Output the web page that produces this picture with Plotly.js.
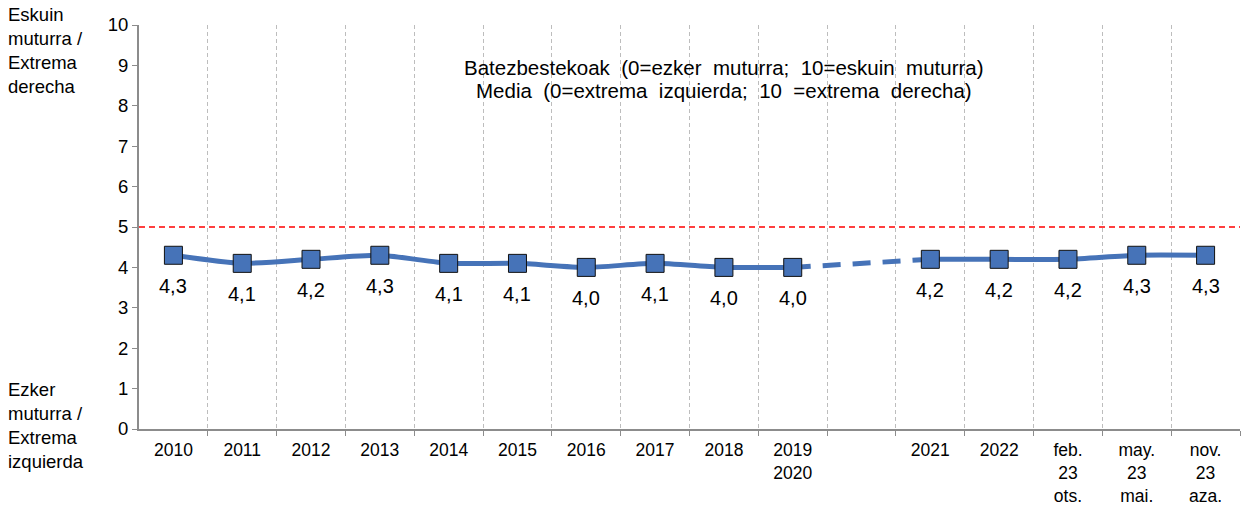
<!DOCTYPE html>
<html><head><meta charset="utf-8">
<script src="https://cdn.plot.ly/plotly-3.0.1.min.js"></script>
<style>body{margin:0;background:#fff}#chart{width:1241px;height:506px}</style>
</head><body><div id="chart"></div>
<script>
const categories = ["2010","2011","2012","2013","2014","2015","2016","2017","2018","2019<br>2020","","2021","2022","feb.<br>23<br>ots.","may.<br>23<br>mai.","nov.<br>23<br>aza."];
const values = [4.3,4.1,4.2,4.3,4.1,4.1,4.0,4.1,4.0,4.0,null,4.2,4.2,4.2,4.3,4.3];
const gapFrom = 9, gapTo = 11;
const refLine = 5;
const yTicks = [0,1,2,3,4,5,6,7,8,9,10];
const titleLines = ["Batezbestekoak&nbsp; (0=ezker&nbsp; muturra;&nbsp; 10=eskuin&nbsp; muturra)",
                    "Media&nbsp; (0=extrema&nbsp; izquierda;&nbsp; 10&nbsp; =extrema&nbsp; derecha)"];

const idx = categories.map((c,i)=>i);
const fam = "Liberation Sans, Arial, sans-serif";
const font = {family:fam, size:18.5, color:"#000"};
const tickFont = {family:fam, size:17.5, color:"#000"};
const blue = "#4673B8";

const seg1x = idx.slice(0,gapFrom+1), seg1y = values.slice(0,gapFrom+1);
const seg2x = idx.slice(gapTo), seg2y = values.slice(gapTo);

const mk = {symbol:"square",size:18,color:blue,line:{color:"#111",width:1}};
const traces = [
  {x:[gapFrom,gapTo], y:[values[gapFrom],values[gapTo]], mode:"lines",
   line:{color:blue,width:5,dash:"18px,12px"}, hoverinfo:"skip"},
  {x:seg1x, y:seg1y, mode:"lines+markers", line:{color:blue,width:5,shape:"spline",smoothing:0.6}, marker:mk},
  {x:seg2x, y:seg2y, mode:"lines+markers", line:{color:blue,width:5,shape:"spline",smoothing:0.6}, marker:mk}
];

const labelAnn = [];
values.forEach((v,i)=>{
  if (v===null) return;
  labelAnn.push({x:i, y:v, xref:"x", yref:"y", showarrow:false, yshift:-31,
    text:v.toFixed(1).replace(".",","), font:{family:fam,size:20,color:"#000"}});
});

const layout = {
  width:1241, height:506, margin:{l:139,r:1,t:25,b:77},
  paper_bgcolor:"#fff", plot_bgcolor:"#fff", showlegend:false, font:font,
  xaxis:{range:[-0.5,categories.length-0.5], tickvals:idx, ticktext:categories, ticks:"",
    ticklabelstandoff:4,
    showgrid:false, zeroline:false, showline:true, linecolor:"#8c8c8c", linewidth:2,
    tickfont:tickFont,
    minor:{tickvals:idx.slice(0,-1).map(i=>i+0.5).concat([categories.length-0.5]), ticks:"outside", ticklen:5, tickcolor:"#8c8c8c",
      showgrid:true, gridcolor:"#bdbdbd", griddash:"4px,3px", gridwidth:1}},
  yaxis:{range:[0,10], tickvals:yTicks, ticks:"outside", ticklen:5, tickcolor:"#8c8c8c",
    showgrid:false, zeroline:false, showline:true, linecolor:"#8c8c8c", linewidth:2, tickfont:font},
  shapes:[{type:"line", xref:"paper", x0:0, x1:1, yref:"y", y0:refLine, y1:refLine,
    line:{color:"#FF0000", width:1.5, dash:"6px,4px"}}],
  annotations:[
    {xref:"paper", yref:"paper", x:0.531, y:(429-67)/404, xanchor:"center", yanchor:"middle", showarrow:false,
     text:titleLines[0], font:{family:fam,size:20.5,color:"#000"}},
    {xref:"paper", yref:"paper", x:0.531, y:(429-90)/404, xanchor:"center", yanchor:"middle", showarrow:false,
     text:titleLines[1], font:{family:fam,size:20.5,color:"#000"}},
    {xref:"paper", yref:"paper", x:-0.121, y:1.056, xanchor:"left", yanchor:"top", align:"left", showarrow:false,
     text:"Eskuin<br>muturra /<br>Extrema<br>derecha", font:font},
    {xref:"paper", yref:"paper", x:-0.121, y:0.128, xanchor:"left", yanchor:"top", align:"left", showarrow:false,
     text:"Ezker<br>muturra /<br>Extrema<br>izquierda", font:font}
  ].concat(labelAnn)
};
Plotly.newPlot("chart", traces, layout, {displayModeBar:false, staticPlot:true});
</script></body></html>
